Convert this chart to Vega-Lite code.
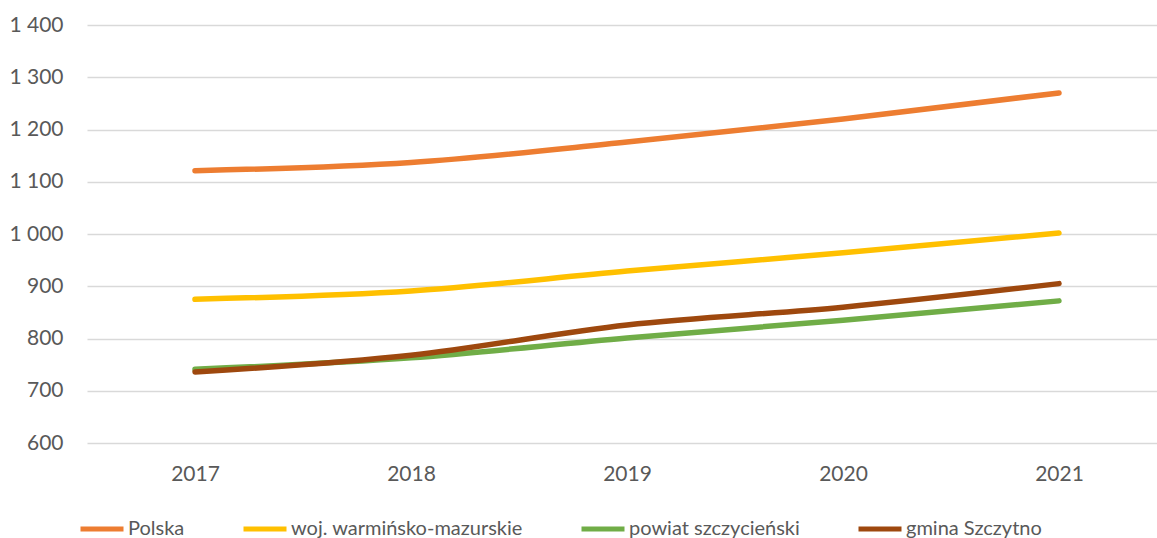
{
  "$schema": "https://vega.github.io/schema/vega-lite/v6.json",
  "autosize": "none",
  "width": 1080,
  "height": 418,
  "padding": {"left": 87, "top": 25, "right": 0, "bottom": 95},
  "background": "white",
  "config": {
    "view": {"stroke": null},
    "font": "Lato"
  },
  "data": {
    "values": [
      {"rok": "2017", "seria": "Polska", "wartosc": 1121},
      {"rok": "2018", "seria": "Polska", "wartosc": 1137},
      {"rok": "2019", "seria": "Polska", "wartosc": 1176},
      {"rok": "2020", "seria": "Polska", "wartosc": 1220},
      {"rok": "2021", "seria": "Polska", "wartosc": 1270},
      {"rok": "2017", "seria": "woj. warmińsko-mazurskie", "wartosc": 875},
      {"rok": "2018", "seria": "woj. warmińsko-mazurskie", "wartosc": 891},
      {"rok": "2019", "seria": "woj. warmińsko-mazurskie", "wartosc": 929},
      {"rok": "2020", "seria": "woj. warmińsko-mazurskie", "wartosc": 964},
      {"rok": "2021", "seria": "woj. warmińsko-mazurskie", "wartosc": 1002},
      {"rok": "2017", "seria": "powiat szczycieński", "wartosc": 741},
      {"rok": "2018", "seria": "powiat szczycieński", "wartosc": 763},
      {"rok": "2019", "seria": "powiat szczycieński", "wartosc": 801},
      {"rok": "2020", "seria": "powiat szczycieński", "wartosc": 835},
      {"rok": "2021", "seria": "powiat szczycieński", "wartosc": 872},
      {"rok": "2017", "seria": "gmina Szczytno", "wartosc": 736},
      {"rok": "2018", "seria": "gmina Szczytno", "wartosc": 768},
      {"rok": "2019", "seria": "gmina Szczytno", "wartosc": 826},
      {"rok": "2020", "seria": "gmina Szczytno", "wartosc": 860},
      {"rok": "2021", "seria": "gmina Szczytno", "wartosc": 905}
    ]
  },
  "mark": {"type": "line", "strokeWidth": 5.5, "strokeCap": "round", "strokeJoin": "round", "interpolate": "monotone"},
  "encoding": {
    "x": {
      "field": "rok", "type": "ordinal",
      "scale": {"type": "point", "padding": 0.5},
      "axis": {"title": null, "labelAngle": 0, "ticks": false, "domain": false, "labelPadding": 20,
        "labelFont": "Lato", "labelFontSize": 21, "labelColor": "#595959"}
    },
    "y": {
      "field": "wartosc", "type": "quantitative",
      "scale": {"domain": [600, 1400], "nice": false, "zero": false},
      "axis": {
        "title": null, "values": [600, 700, 800, 900, 1000, 1100, 1200, 1300, 1400],
        "ticks": false, "domain": false, "labelPadding": 24, "labelOverlap": false,
        "labelFont": "Lato", "labelFontSize": 21, "labelColor": "#595959",
        "gridColor": "#d9d9d9", "gridWidth": 1.5,
        "labelExpr": "replace(format(datum.value, ','), ',', ' ')"
      }
    },
    "color": {
      "field": "seria", "type": "nominal",
      "scale": {
        "domain": ["Polska", "woj. warmińsko-mazurskie", "powiat szczycieński", "gmina Szczytno"],
        "range": ["#ED7D31", "#FFC000", "#70AD47", "#9E480E"]
      },
      "legend": {
        "title": null, "orient": "none", "direction": "horizontal",
        "legendX": -9, "legendY": 480,
        "symbolType": "stroke", "symbolSize": 1849, "symbolStrokeWidth": 5,
        "labelFont": "Lato", "labelFontSize": 20, "labelColor": "#595959", "labelLimit": 0,
        "labelOffset": 2, "columnPadding": 48
      }
    },
    "order": {"field": "seria"}
  }
}
